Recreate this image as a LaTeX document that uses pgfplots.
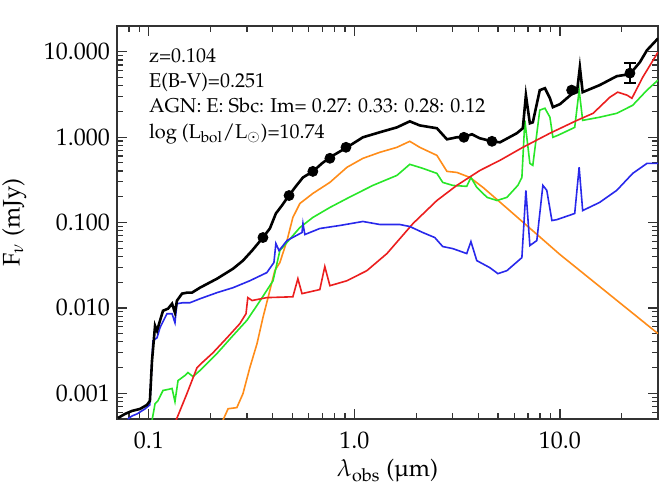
\documentclass[border=0pt]{standalone}
\usepackage[T1]{fontenc}
\usepackage{mathpazo}
\usepackage{pgfplots}
\pgfplotsset{compat=1.18}
\definecolor{cblue}{RGB}{40,40,235}
\definecolor{cgreen}{RGB}{40,230,40}
\definecolor{cred}{RGB}{235,30,30}
\definecolor{corange}{RGB}{255,140,25}
\begin{document}
\begin{tikzpicture}
\path[use as bounding box] (-58.5pt,-32.5pt) rectangle (272.5pt,209.5pt);
\begin{axis}[
  at={(0,0)}, anchor=south west, scale only axis,
  width=270.5pt, height=196.5pt,
  xmode=log, ymode=log,
  xmin=0.07, xmax=30, ymin=5e-4, ymax=20,
  xtick={0.1,1,10}, xticklabels={0.1,1.0,10.0},
  ytick={0.001,0.01,0.1,1,10}, yticklabels={0.001,0.010,0.100,1.000,10.000},
  minor xtick={0.07,0.08,0.09,0.2,0.3,0.4,0.5,0.6,0.7,0.8,0.9,2,3,4,5,6,7,8,9,20,30},
  minor ytick={0.0006,0.0007,0.0008,0.0009,0.002,0.003,0.004,0.005,0.006,0.007,0.008,0.009,0.02,0.03,0.04,0.05,0.06,0.07,0.08,0.09,0.2,0.3,0.4,0.5,0.6,0.7,0.8,0.9,2,3,4,5,6,7,8,9,20},
  tick label style={font=\fontsize{12}{14}\selectfont},
  xticklabel style={yshift=-5pt, inner sep=1pt},
  major tick length=5pt, minor tick length=3pt,
  axis line style={line width=0.9pt, black!80},
  every tick/.style={black!80, line width=0.6pt},
  label style={font=\fontsize{12}{14}\selectfont},
  xlabel={$\lambda_{\mathrm{obs}}$ (\textmu m)},
  ylabel={F$_\nu$ (mJy)},
  xlabel style={at={(axis description cs:0.5,-0.147)}, anchor=base, inner sep=0pt},
  ylabel style={at={(axis description cs:-0.19,0.5)}, anchor=center},
]
% orange
\addplot[corange, line width=0.8pt] coordinates {
(0.229,0.00048) (0.243,0.00066) (0.268,0.00068) (0.287,0.00099) (0.31,0.002) (0.336,0.00382) (0.359,0.0077) (0.388,0.016) (0.41,0.0273) (0.434,0.034) (0.47,0.0615) (0.502,0.1146) (0.543,0.167) (0.628,0.219) (0.76,0.295) (0.92,0.443) (1.10,0.564) (1.33,0.664) (1.61,0.759) (1.86,0.893) (2.08,0.759) (2.52,0.611) (2.82,0.397) (3.15,0.386) (3.65,0.337) (4.22,0.258) (4.94,0.186) (10,0.0422) (30,0.005)
};
% green
\addplot[cgreen, line width=0.8pt] coordinates {
(0.1036,0.00048) (0.1072,0.000755) (0.1107,0.000818) (0.1172,0.00108) (0.124,0.00111) (0.1297,0.00114) (0.134,0.0008) (0.1387,0.00141) (0.15,0.00162) (0.155,0.00175) (0.164,0.00157) (0.1774,0.00185) (0.2147,0.00293) (0.257,0.00476) (0.30,0.00715) (0.348,0.01216) (0.402,0.0208) (0.434,0.0469) (0.543,0.0873) (0.628,0.1146) (0.76,0.15) (0.92,0.191) (1.23,0.272) (1.61,0.356) (1.86,0.48) (2.15,0.431) (2.52,0.376) (2.69,0.295) (3.01,0.272) (3.52,0.265) (3.69,0.337) (3.94,0.258) (4.42,0.197) (4.94,0.181) (5.52,0.197) (6.24,0.272) (6.53,0.337) (6.75,1.57) (7.14,0.492) (7.38,0.467) (7.98,2.07) (8.45,2.18) (8.94,1.71) (9.24,0.995) (9.78,1.05) (11.8,1.30) (12.4,3.54) (12.9,1.57) (15.6,1.71) (18.9,1.90) (22.6,2.36) (26.5,3.54) (30,4.65)
};
% red
\addplot[cred, line width=0.8pt] coordinates {
(0.1355,0.00048) (0.153,0.000984) (0.1714,0.00199) (0.1833,0.00233) (0.205,0.00298) (0.24,0.00447) (0.277,0.00653) (0.297,0.00855) (0.303,0.0132) (0.318,0.0122) (0.375,0.0132) (0.502,0.0135) (0.531,0.022) (0.556,0.0147) (0.679,0.0164) (0.718,0.0305) (0.76,0.0182) (0.92,0.0208) (1.15,0.0273) (1.44,0.0433) (1.93,0.0975) (2.52,0.181) (3.15,0.272) (4.08,0.407) (5.11,0.535) (6.6,0.759) (8.94,1.11) (12.1,1.57) (14.5,1.90) (17.5,2.93) (19.1,3.36) (21.2,3.10) (22.4,2.85) (25.3,5.04) (29,8.65) (30,9.9)
};
% blue
\addplot[cblue, line width=0.8pt] coordinates {
(0.079,0.0005) (0.0828,0.000543) (0.0875,0.000573) (0.0957,0.000656) (0.101,0.000731) (0.1047,0.00412) (0.1096,0.00447) (0.1133,0.00586) (0.1225,0.00855) (0.1297,0.00855) (0.134,0.0067) (0.137,0.0112) (0.1466,0.0115) (0.1585,0.0115) (0.1774,0.0128) (0.2147,0.0151) (0.257,0.01726) (0.310,0.0208) (0.375,0.0259) (0.406,0.034) (0.415,0.0568) (0.43,0.0469) (0.47,0.0615) (0.556,0.0764) (0.562,0.0975) (0.574,0.0723) (0.679,0.0851) (0.85,0.0923) (1.10,0.1028) (1.33,0.0948) (1.66,0.0948) (1.86,0.0898) (2.15,0.0764) (2.46,0.0667) (2.69,0.0523) (3.01,0.0495) (3.52,0.0433) (3.69,0.0598) (3.94,0.0358) (4.56,0.0296) (4.99,0.0252) (5.52,0.0273) (6.53,0.0388) (6.83,0.238) (7.14,0.0537) (7.72,0.0615) (8.26,0.272) (8.63,0.238) (9.14,0.1055) (9.66,0.108) (11.8,0.1276) (12.4,0.443) (12.9,0.138) (15.6,0.172) (18.9,0.238) (22.6,0.376) (26.5,0.492) (30,0.492)
};
% total
\addplot[black, line width=1.3pt] coordinates {
(0.0708,0.000514) (0.0765,0.000573) (0.0827,0.000621) (0.0906,0.000656) (0.0979,0.000731) (0.1012,0.000815) (0.1036,0.0024) (0.1072,0.00618) (0.1096,0.0054) (0.1133,0.00708) (0.1172,0.00927) (0.124,0.0098) (0.1297,0.0112) (0.134,0.0088) (0.137,0.01216) (0.145,0.0147) (0.1534,0.0151) (0.1622,0.0151) (0.1774,0.01726) (0.2147,0.0220) (0.257,0.0288) (0.287,0.0358) (0.318,0.0469) (0.359,0.0667) (0.388,0.0851) (0.415,0.1276) (0.444,0.158) (0.48,0.207) (0.519,0.265) (0.562,0.337) (0.629,0.397) (0.695,0.492) (0.760,0.579) (0.920,0.759) (1.10,0.995) (1.33,1.14) (1.61,1.30) (1.86,1.53) (2.08,1.37) (2.52,1.27) (2.82,0.942) (3.15,0.995) (3.37,0.995) (3.73,1.08) (4.08,0.968) (4.67,0.893) (5.11,0.869) (6.17,1.11) (6.60,1.27) (6.83,3.10) (7.14,1.45) (7.38,1.49) (7.98,3.54) (8.45,3.74) (8.94,2.85) (9.24,2.24) (10.0,2.43) (10.8,2.85) (11.4,3.18) (12.1,3.36) (12.5,6.59) (12.9,3.36) (15.6,4.06) (18.9,5.17) (21.9,5.46) (24.5,7.55) (26.5,10.4) (30,14.3)
};
% photometry
\addplot[only marks, mark=*, mark size=2.5pt, black] coordinates {
(0.359,0.0667) (0.481,0.207) (0.628,0.397) (0.760,0.565) (0.910,0.760) (3.41,0.995) (4.67,0.893) (11.4,3.55)
};
\addplot[only marks, mark=*, mark size=2.5pt, black,
  error bars/.cd, y dir=both, y explicit,
  error bar style={line width=0.8pt},
  error mark options={rotate=90, mark size=3pt, line width=0.8pt}] coordinates {
(21.9,5.61) += (0,1.75) -= (0,1.32)
};
\node[anchor=base west, font=\fontsize{10}{12}\selectfont] at (rel axis cs:0.0462,0.9084) {z=0.104};
\node[anchor=base west, font=\fontsize{10}{12}\selectfont] at (rel axis cs:0.0462,0.8435) {E(B-V)=0.251};
\node[anchor=base west, font=\fontsize{10}{12}\selectfont] at (rel axis cs:0.0462,0.780) {AGN: E: Sbc: Im= 0.27: 0.33: 0.28: 0.12};
\node[anchor=base west, font=\fontsize{10}{12}\selectfont] at (rel axis cs:0.0462,0.715) {log (L$_{\mathrm{bol}}$/L$_{\odot}$)=10.74};
\end{axis}
\end{tikzpicture}
\end{document}
